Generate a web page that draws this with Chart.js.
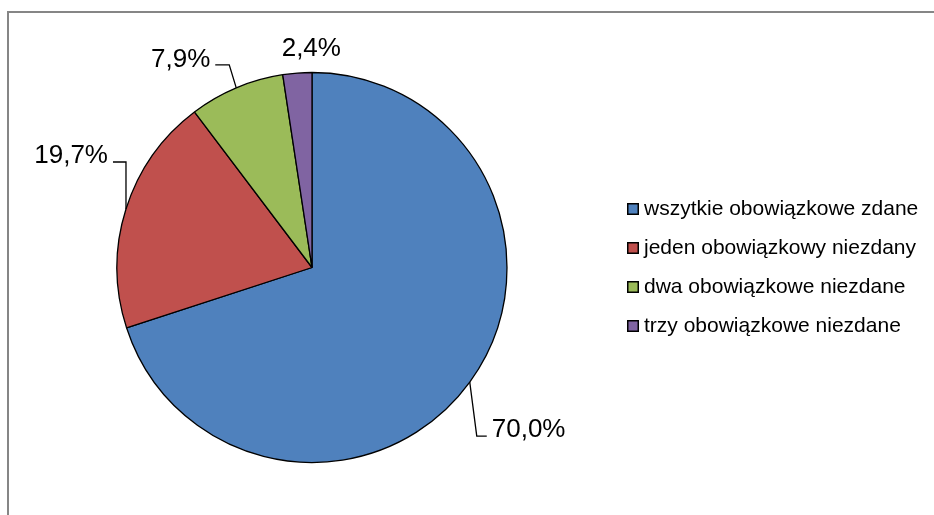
<!DOCTYPE html>
<html>
<head>
<meta charset="utf-8">
<script src="https://cdn.jsdelivr.net/npm/chart.js@4.4.0/dist/chart.umd.min.js"></script>
<style>
  html, body { margin: 0; padding: 0; background: #fff; }
  #wrap { width: 934px; height: 515px; }
</style>
</head>
<body>
<div id="wrap"><canvas id="pie" width="934" height="515"></canvas></div>
<script>
const categories = [
  "wszytkie obowiązkowe zdane",
  "jeden obowiązkowy niezdany",
  "dwa obowiązkowe niezdane",
  "trzy obowiązkowe niezdane"
];
const shares = [70.0, 19.7, 7.9, 2.4];
const colors = ["#4F81BD", "#C0504D", "#9BBB59", "#8064A2"];

const fmt = v => v.toFixed(1).replace(".", ",") + "%";
const FONT = "Liberation Sans, Arial, sans-serif";

// leader line layout per slice, relative to the slice's outer mid point
const leaders = [
  { elbow: [7, 54], tail: 10, side: "right", base: 1 },
  { elbow: [0, -47], tail: -13, side: "left", base: 1 },
  { elbow: [-7, -23], tail: -14, side: "left", base: 2 },
  { elbow: null, offset: [14, -17] }
];

const frame = {
  id: "frame",
  beforeDraw(chart) {
    const ctx = chart.ctx;
    ctx.save();
    ctx.strokeStyle = "#868686";
    ctx.lineWidth = 2;
    ctx.beginPath();
    ctx.moveTo(8, chart.height);
    ctx.lineTo(8, 12);
    ctx.lineTo(chart.width, 12);
    ctx.stroke();
    ctx.restore();
  }
};

const sliceLabels = {
  id: "sliceLabels",
  afterDatasetsDraw(chart) {
    const ctx = chart.ctx;
    const meta = chart.getDatasetMeta(0);
    ctx.save();
    ctx.font = "26px " + FONT;
    ctx.fillStyle = "#000";
    ctx.strokeStyle = "#000";
    ctx.lineWidth = 1.3;
    meta.data.forEach((arc, k) => {
      const p = arc.getProps(["x", "y", "startAngle", "endAngle", "outerRadius"], true);
      const mid = (p.startAngle + p.endAngle) / 2;
      const ex = p.x + p.outerRadius * Math.cos(mid);
      const ey = p.y + p.outerRadius * Math.sin(mid);
      const L = leaders[k];
      const txt = fmt(shares[k]);
      ctx.textBaseline = "alphabetic";
      if (!L.elbow) {
        ctx.textAlign = "center";
        ctx.fillText(txt, ex + L.offset[0], ey + L.offset[1]);
        return;
      }
      const bx = ex + L.elbow[0], by = ey + L.elbow[1];
      const tx = bx + L.tail;
      ctx.beginPath();
      ctx.moveTo(ex, ey);
      ctx.lineTo(bx, by);
      ctx.lineTo(tx, by);
      ctx.stroke();
      if (L.side === "right") {
        ctx.textAlign = "left";
        ctx.fillText(txt, tx + 5, by + L.base);
      } else {
        ctx.textAlign = "right";
        ctx.fillText(txt, tx - 5, by + L.base);
      }
    });
    ctx.restore();
  }
};

const sideLegend = {
  id: "sideLegend",
  afterDraw(chart) {
    const ctx = chart.ctx;
    const x0 = 627, size = 12, firstBase = 215, step = 39;
    ctx.save();
    ctx.font = "21px " + FONT;
    ctx.textAlign = "left";
    ctx.textBaseline = "alphabetic";
    categories.forEach((name, k) => {
      const yb = firstBase + k * step;
      ctx.fillStyle = colors[k];
      ctx.fillRect(x0, yb - size, size, size);
      ctx.strokeStyle = "#000";
      ctx.lineWidth = 1.5;
      ctx.strokeRect(x0 + 0.75, yb - size + 0.75, size - 1.5, size - 1.5);
      ctx.fillStyle = "#000";
      ctx.fillText(name, x0 + 17, yb);
    });
    ctx.restore();
  }
};

new Chart(document.getElementById("pie"), {
  type: "pie",
  data: {
    labels: categories,
    datasets: [{
      data: shares,
      backgroundColor: colors,
      borderColor: "#000",
      borderWidth: 1.3,
      hoverOffset: 0
    }]
  },
  options: {
    responsive: false,
    animation: false,
    radius: 195,
    layout: { padding: { left: 0, right: 310, top: 20, bottom: 0 } },
    plugins: {
      legend: { display: false },
      tooltip: { enabled: false }
    }
  },
  plugins: [frame, sliceLabels, sideLegend]
});
</script>
</body>
</html>
